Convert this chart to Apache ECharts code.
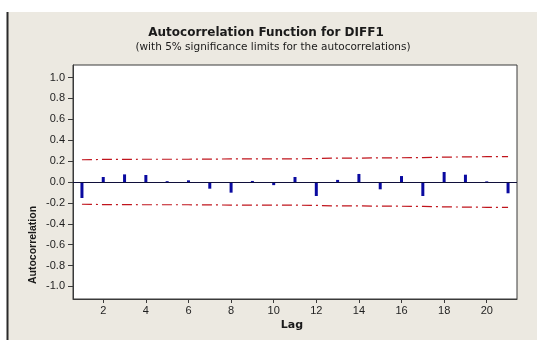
<!DOCTYPE html>
<html>
<head>
<meta charset="utf-8">
<script src="https://cdn.jsdelivr.net/npm/echarts@6/dist/echarts.min.js"></script>
<style>html,body{margin:0;padding:0;background:#fff}#c{width:537px;height:340px}</style>
</head>
<body>
<div id="c"></div>
<script>
var lags = [1,2,3,4,5,6,7,8,9,10,11,12,13,14,15,16,17,18,19,20,21];
var acf = [-0.153,0.048,0.073,0.067,0.008,0.016,-0.064,-0.102,0.010,-0.030,0.048,-0.134,0.020,0.077,-0.070,0.057,-0.134,0.096,0.070,0.006,-0.108];
var upperLimit = [0.213,0.216,0.217,0.218,0.218,0.218,0.219,0.221,0.222,0.222,0.222,0.224,0.229,0.229,0.231,0.232,0.233,0.238,0.240,0.242,0.242];
var lowerLimit = [-0.213,-0.216,-0.217,-0.218,-0.218,-0.218,-0.219,-0.221,-0.222,-0.222,-0.222,-0.224,-0.229,-0.229,-0.231,-0.232,-0.233,-0.238,-0.240,-0.242,-0.242];
var xTicks = [2,4,6,8,10,12,14,16,18,20];
var yTicks = [-1.0,-0.8,-0.6,-0.4,-0.2,0.0,0.2,0.4,0.6,0.8,1.0];
var title = 'Autocorrelation Function for DIFF1';
var subtitle = '(with 5% significance limits for the autocorrelations)';
var xName = 'Lag';
var yName = 'Autocorrelation';

function pairs(xs, ys){ return xs.map(function(x,i){ return [x, ys[i]]; }); }

var chart = echarts.init(document.getElementById('c'), null, {renderer:'canvas'});
var font = 'Liberation Sans, Arial, sans-serif';
var dfont = 'DejaVu Sans, Verdana, sans-serif';
var limitStyle = {color:'#C0141C', width:1.2, type:[10,4,2,4]};
chart.setOption({
  backgroundColor:'#ffffff',
  animation:false,
  graphic:[
    {type:'rect', z:-10, shape:{x:7, y:12, width:530, height:328}, style:{fill:'#ECE9E1'}},
    {type:'line', z:-9, shape:{x1:7.5, y1:12, x2:7.5, y2:340}, style:{stroke:'#2a2a2a', lineWidth:2}},
    {type:'text', x:266, y:33, style:{text:title, font:'bold 12px '+dfont, fill:'#1a1a1a', textAlign:'center', textVerticalAlign:'middle'}},
    {type:'text', x:273, y:47, style:{text:subtitle, font:'10.5px '+dfont, fill:'#1a1a1a', textAlign:'center', textVerticalAlign:'middle'}},
    {type:'text', x:292, y:325, style:{text:xName, font:'bold 11px '+dfont, fill:'#1a1a1a', textAlign:'center', textVerticalAlign:'middle'}},
    {type:'text', x:33, y:245, rotation:Math.PI/2, style:{text:yName, font:'bold 10.5px '+font, fill:'#1a1a1a', textAlign:'center', textVerticalAlign:'middle'}}
  ],
  grid:{left:73, right:20, top:65, bottom:41, show:true, backgroundColor:'#ffffff', borderColor:'#3a3a3a', borderWidth:1},
  xAxis:{
    type:'value', min:0.58, max:21.42,
    axisLine:{show:true, onZero:false, lineStyle:{color:'#3a3a3a'}},
    splitLine:{show:false},
    axisTick:{show:true, length:4, customValues:xTicks, lineStyle:{color:'#3a3a3a'}},
    axisLabel:{customValues:xTicks, margin:6, color:'#1e1e1e', fontSize:11, fontFamily:font},
  },
  yAxis:{
    type:'value', min:-1.12, max:1.12,
    axisLine:{show:true, lineStyle:{color:'#3a3a3a'}},
    splitLine:{show:false},
    axisTick:{show:true, length:5, customValues:yTicks, lineStyle:{color:'#3a3a3a'}},
    axisLabel:{customValues:yTicks, margin:8, color:'#1e1e1e', fontSize:11, fontFamily:font,
      formatter:function(v){ return v.toFixed(1); }}
  },
  series:[
    {type:'bar', data:pairs(lags, acf), barWidth:3, itemStyle:{color:'#0A0AA0'},
     markLine:{silent:true, symbol:['none','none'], label:{show:false}, lineStyle:{color:'#10103a', width:1, type:'solid'},
       data:[{yAxis:0}]}},
    {type:'line', data:pairs(lags, upperLimit), symbol:'none', lineStyle:limitStyle, z:3},
    {type:'line', data:pairs(lags, lowerLimit), symbol:'none', lineStyle:limitStyle, z:3}
  ]
});
</script>
</body>
</html>
